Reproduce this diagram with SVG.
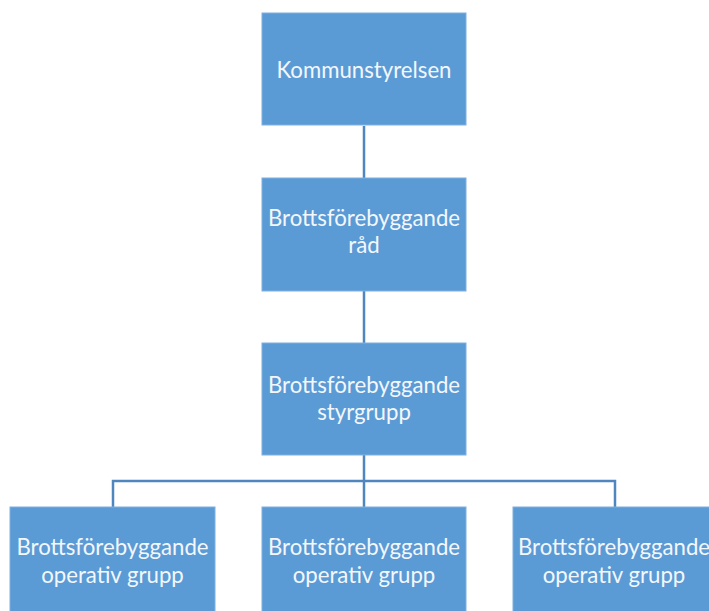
<svg xmlns="http://www.w3.org/2000/svg" width="709" height="611" viewBox="0 0 709 611">
<style>
.box{fill:#5B9BD5;stroke:#7fb0df;stroke-width:1}
.t{font-family:Lato,"Open Sans","Liberation Sans",sans-serif;font-size:22.2px;fill:#f3f7fc;text-anchor:middle}
.c{fill:none;stroke:#4f86bf;stroke-width:2.5}
</style>
<rect width="709" height="611" fill="#ffffff"/>
<g id="connectors">
<line class="c" x1="364" y1="126" x2="364" y2="178"/>
<line class="c" x1="364" y1="291" x2="364" y2="343"/>
<line class="c" x1="364" y1="455" x2="364" y2="507"/>
<polyline class="c" points="113,507 113,481 615,481 615,507"/>
</g>
<g id="n1">
<rect class="box" x="262" y="13" width="204" height="112"/>
<text class="t" x="364" y="77.5">Kommunstyrelsen</text>
</g>
<g id="n2">
<rect class="box" x="262" y="178" width="204" height="113"/>
<text class="t" x="364" y="226">Brottsförebyggande</text>
<text class="t" x="364" y="253">råd</text>
</g>
<g id="n3">
<rect class="box" x="262" y="343" width="204" height="112"/>
<text class="t" x="364" y="393">Brottsförebyggande</text>
<text class="t" x="364" y="420">styrgrupp</text>
</g>
<g id="n4">
<rect class="box" x="10" y="507" width="205" height="112"/>
<text class="t" x="112.5" y="555">Brottsförebyggande</text>
<text class="t" x="112.5" y="583">operativ grupp</text>
</g>
<g id="n5">
<rect class="box" x="262" y="507" width="204" height="112"/>
<text class="t" x="364" y="555">Brottsförebyggande</text>
<text class="t" x="364" y="583">operativ grupp</text>
</g>
<g id="n6">
<rect class="box" x="513" y="507" width="204" height="112"/>
<text class="t" x="614" y="555">Brottsförebyggande</text>
<text class="t" x="614" y="583">operativ grupp</text>
</g>
</svg>
